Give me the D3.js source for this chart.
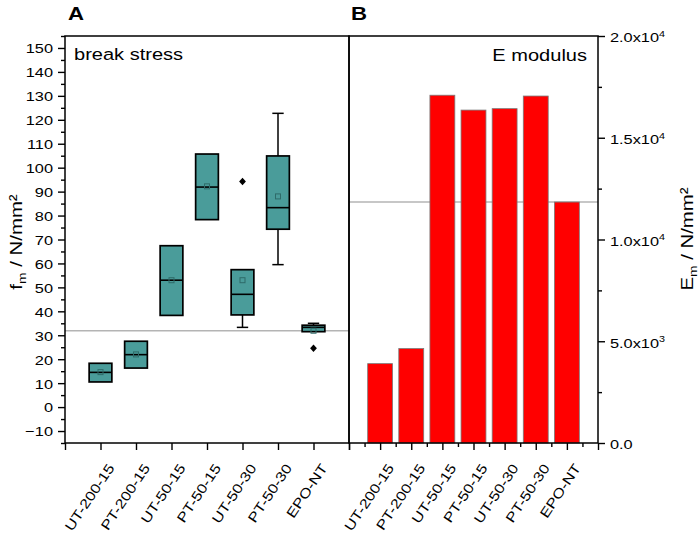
<!DOCTYPE html>
<html><head><meta charset="utf-8">
<script src="https://cdn.jsdelivr.net/npm/d3@7"></script>
<style>
body{margin:0;background:#fff}
text{font-family:"Liberation Sans",Arial,sans-serif;fill:#000}
</style></head>
<body><svg id="c" width="699" height="533"></svg>
<script>
// ---------- data ----------
const categories = ["UT-200-15","PT-200-15","UT-50-15","PT-50-15","UT-50-30","PT-50-30","EPO-NT"];
const boxQ1     = [10.5, 16.3, 38.3, 78.3, 38.5, 74.3, 31.5];
const boxMedian = [14.5, 21.9, 53.0, 91.9, 47.1, 83.3, 33.3];
const boxQ3     = [18.3, 27.5, 67.4, 105.7, 57.4, 104.9, 34.2];
const boxMean   = [14.6, 22.0, 53.0, 92.2, 53.0, 88.0, 31.9];
const whiskLow  = [10.5, 16.3, 38.3, 78.3, 33.3, 59.5, 31.5];
const whiskHigh = [18.3, 27.5, 67.4, 105.7, 57.4, 122.7, 35.0];
const outliers  = [[], [], [], [], [94.2], [], [24.6]];
const modulus   = [3900, 4640, 17090, 16360, 16430, 17050, 11840];
const fTicks = [-10,0,10,20,30,40,50,60,70,80,90,100,110,120,130,140,150];
const eTickValues = [0, 5000, 10000, 15000, 20000];
const eTickMant = ["0.0","5.0","1.0","1.5","2.0"];
const eTickExp  = ["", "3", "4", "4", "4"];

// ---------- layout ----------
const SX = 1.2; // horizontal text stretch of the reference
const svg = d3.select("#c");
const yTop = 36, yBot = 443;
const xA = d3.scaleLinear().domain([0, 8]).range([65, 349]);
const yA = d3.scaleLinear().domain([-15, 155]).range([yBot, yTop]);
const xB = d3.scaleLinear().domain([0, 8]).range([349, 598]);
const yB = d3.scaleLinear().domain([0, 20000]).range([yBot, yTop]);
const teal = "#4a9c9a";

function txt(g, x, y, s, size, anchor, rot, weight) {
  return g.append("text")
    .attr("transform", `translate(${x},${y}) rotate(${rot||0}) scale(${SX},1)`)
    .attr("font-size", size).attr("text-anchor", anchor || "start")
    .attr("font-weight", weight || "normal").text(s);
}

// ---------- panel A ----------
const gA = svg.append("g");
gA.append("line").attr("x1", xA(0)).attr("x2", xA(8))
  .attr("y1", yA(boxMean[6])).attr("y2", yA(boxMean[6]))
  .attr("stroke", "#b4b4b4").attr("stroke-width", 1.5);

const bw = (xA(1) - xA(0)) * 0.64;
const cw = bw / 2;
categories.forEach((c, i) => {
  const cx = xA(i + 1);
  const g = gA.append("g");
  if (whiskLow[i] < boxQ1[i]) {
    g.append("line").attr("x1", cx).attr("x2", cx).attr("y1", yA(whiskLow[i])).attr("y2", yA(boxQ1[i])).attr("stroke","#000").attr("stroke-width",1.5);
    g.append("line").attr("x1", cx - cw/2).attr("x2", cx + cw/2).attr("y1", yA(whiskLow[i])).attr("y2", yA(whiskLow[i])).attr("stroke","#000").attr("stroke-width",1.5);
  }
  if (whiskHigh[i] > boxQ3[i]) {
    g.append("line").attr("x1", cx).attr("x2", cx).attr("y1", yA(whiskHigh[i])).attr("y2", yA(boxQ3[i])).attr("stroke","#000").attr("stroke-width",1.5);
    g.append("line").attr("x1", cx - cw/2).attr("x2", cx + cw/2).attr("y1", yA(whiskHigh[i])).attr("y2", yA(whiskHigh[i])).attr("stroke","#000").attr("stroke-width",1.5);
  }
  g.append("rect").attr("x", cx - bw/2).attr("width", bw)
    .attr("y", yA(boxQ3[i])).attr("height", yA(boxQ1[i]) - yA(boxQ3[i]))
    .attr("fill", teal).attr("stroke", "#000").attr("stroke-width", 1.7);
  g.append("line").attr("x1", cx - bw/2).attr("x2", cx + bw/2)
    .attr("y1", yA(boxMedian[i])).attr("y2", yA(boxMedian[i]))
    .attr("stroke", "#000").attr("stroke-width", 1.6);
  g.append("rect").attr("x", cx - 2.5).attr("y", yA(boxMean[i]) - 2.5)
    .attr("width", 5).attr("height", 5).attr("fill", "none")
    .attr("stroke", "#2e6b69").attr("stroke-width", 1);
  outliers[i].forEach(v => {
    g.append("path").attr("transform", `translate(${cx},${yA(v)})`)
      .attr("d", "M0,-3.8L3.4,0L0,3.8L-3.4,0Z").attr("fill", "#000");
  });
});

// ---------- panel B ----------
const gB = svg.append("g");
gB.append("line").attr("x1", xB(0)).attr("x2", xB(8))
  .attr("y1", yB(modulus[6])).attr("y2", yB(modulus[6]))
  .attr("stroke", "#b4b4b4").attr("stroke-width", 1.5);
const barW = (xB(1) - xB(0)) * 0.8;
gB.selectAll("rect.bar").data(modulus).join("rect").attr("class","bar")
  .attr("x", (d, i) => xB(i + 1) - barW/2).attr("width", barW)
  .attr("y", d => yB(d)).attr("height", d => yB(0) - yB(d))
  .attr("fill", "#ff0000").attr("stroke", "#7a7a7a").attr("stroke-width", 0.8);

// ---------- axes ----------
function restyle(g, fn) {
  g.select(".domain").remove();
  g.selectAll(".tick line").attr("stroke", "#000").attr("stroke-width", 1.4);
  g.selectAll(".tick text").attr("x", null).attr("y", null).attr("dy", null).each(fn);
}
// left axis A
const minorA = d3.range(-15, 156, 5).filter(v => v % 10 !== 0);
svg.append("g").attr("transform", `translate(${xA(0)},0)`)
  .call(d3.axisLeft(yA).tickValues(minorA).tickSize(4).tickFormat(""))
  .call(g => restyle(g, function(){}));
svg.append("g").attr("transform", `translate(${xA(0)},0)`)
  .call(d3.axisLeft(yA).tickValues(fTicks).tickSize(7).tickFormat(d3.format("d")))
  .call(g => restyle(g, function() {
    d3.select(this).attr("transform", `translate(-12,4.9) scale(${SX},1)`)
      .attr("font-size", 13.6).attr("text-anchor", "end").attr("font-family", null).attr("fill", "#000");
  }));
// bottom axis A
function bottomLabels(g) {
  restyle(g, function(d) {
    d3.select(this).attr("transform", `translate(14,25) rotate(-56) scale(${SX},1)`)
      .attr("font-size", 13.6).attr("text-anchor", "end").attr("font-family", null).attr("fill", "#000");
  });
}
svg.append("g").attr("transform", `translate(0,${yBot})`)
  .call(d3.axisBottom(xA).tickValues(d3.range(0, 9)).tickSize(7)
    .tickFormat(i => categories[i - 1] || ""))
  .call(bottomLabels);
// bottom axis B
svg.append("g").attr("transform", `translate(0,${yBot})`)
  .call(d3.axisBottom(xB).tickValues(d3.range(0.5, 8, 1)).tickSize(4).tickFormat(""))
  .call(g => restyle(g, function(){}));
svg.append("g").attr("transform", `translate(0,${yBot})`)
  .call(d3.axisBottom(xB).tickValues(d3.range(0, 9)).tickSize(7)
    .tickFormat(i => categories[i - 1] || ""))
  .call(bottomLabels);
// right axis B
svg.append("g").attr("transform", `translate(${xB(8)},0)`)
  .call(d3.axisRight(yB).tickValues(d3.range(2500, 20000, 5000)).tickSize(4).tickFormat(""))
  .call(g => restyle(g, function(){}));
svg.append("g").attr("transform", `translate(${xB(8)},0)`)
  .call(d3.axisRight(yB).tickValues(eTickValues).tickSize(7).tickFormat(""))
  .call(g => restyle(g, function(d) {
    const i = eTickValues.indexOf(d);
    const t = d3.select(this).attr("transform", `translate(12,5.8) scale(${SX},1)`)
      .attr("font-size", 13.6).attr("text-anchor", "start").attr("font-family", null).attr("fill", "#000");
    if (eTickExp[i]) {
      t.append("tspan").text(eTickMant[i] + "x10");
      t.append("tspan").attr("dy", -5.5).attr("font-size", 9).text(eTickExp[i]);
    } else {
      t.text(eTickMant[i]);
    }
  }));

// frames
svg.append("rect").attr("x", xA(0)).attr("y", yTop).attr("width", xA(8) - xA(0)).attr("height", yBot - yTop)
  .attr("fill", "none").attr("stroke", "#000").attr("stroke-width", 1.5);
svg.append("rect").attr("x", xB(0)).attr("y", yTop).attr("width", xB(8) - xB(0)).attr("height", yBot - yTop)
  .attr("fill", "none").attr("stroke", "#000").attr("stroke-width", 1.5);

// ---------- labels ----------
txt(svg, 68, 20, "A", 18.5, "start", 0, "bold");
txt(svg, 351, 20, "B", 18.5, "start", 0, "bold");
txt(svg, 74, 60, "break stress", 16.7, "start");
txt(svg, 587, 61, "E modulus", 16.7, "end");

function axisTitle(x, y, main) {
  const t = svg.append("text")
    .attr("transform", `translate(${x},${y}) rotate(-90) scale(${SX},1)`)
    .attr("font-size", 17).attr("text-anchor", "middle");
  t.append("tspan").text(main);
  t.append("tspan").attr("font-size", 11.5).attr("dy", 4).text("m");
  t.append("tspan").attr("dy", -4).text(" / N/mm²");
}
axisTitle(22, 242, "f");
axisTitle(693, 239, "E");
</script></body></html>
